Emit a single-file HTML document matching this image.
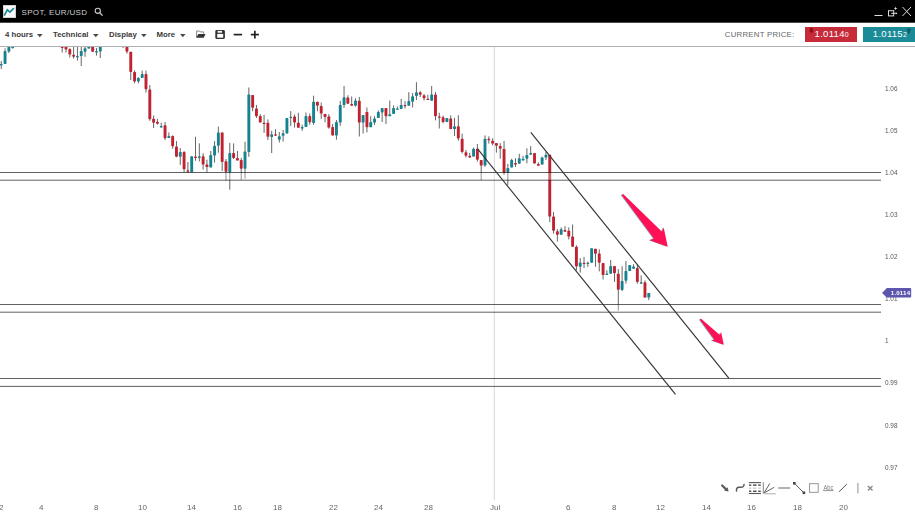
<!DOCTYPE html>
<html><head><meta charset="utf-8">
<style>
*{margin:0;padding:0;box-sizing:border-box}
html,body{width:915px;height:517px;overflow:hidden;background:#fff;font-family:"Liberation Sans",sans-serif}
#hdr{position:absolute;left:0;top:0;width:915px;height:23px;background:#000;border-bottom:1px solid #4a4a4a}
#logo{position:absolute;left:2.6px;top:4.8px;width:13.4px;height:13.2px;background:#fafafa;border:1px solid #d0d0d0}
#title{position:absolute;left:21.5px;top:7.5px;font-size:8px;color:#cfcfcf;letter-spacing:0.35px;white-space:nowrap;line-height:10px}
#tb{position:absolute;left:0;top:23px;width:915px;height:24px;background:#fff;border-bottom:1px solid #b0b0b0}
.tbt{position:absolute;top:6.5px;font-size:7.8px;font-weight:bold;color:#3a3a3a;line-height:10px;white-space:nowrap}
.dd{position:absolute;top:11px}
#cp{position:absolute;left:724.8px;top:7.4px;font-size:7.8px;color:#666;letter-spacing:0.25px;white-space:nowrap;line-height:10px}
.pbox{position:absolute;top:4px;height:14.5px;color:#fff;font-size:9.5px;line-height:15px}
#chart{position:absolute;left:0;top:47px}
.yl{position:absolute;left:885.3px;font-size:6.4px;color:#555;line-height:8px;will-change:transform}
.xl{position:absolute;top:503.3px;font-size:8px;color:#666;line-height:9px;white-space:nowrap;will-change:transform}
</style></head><body>
<div id="hdr">
  <div id="logo"></div><svg width="20" height="20" style="position:absolute;left:0;top:0"><polyline points="4.2,15.6 7.3,9.9 9.9,12.2 13.9,8.1" fill="none" stroke="#1b8a96" stroke-width="1.7"/></svg>
  <div id="title">SPOT, EUR/USD</div>
  <svg style="position:absolute;left:94px;top:7px" width="10" height="10"><circle cx="3.8" cy="3.8" r="2.6" fill="none" stroke="#ccc" stroke-width="1.1"/><line x1="5.7" y1="5.7" x2="8.6" y2="8.6" stroke="#ccc" stroke-width="1.3"/></svg>
  <svg style="position:absolute;left:872px;top:4px" width="42" height="14">
    <line x1="2.5" y1="11.5" x2="10.5" y2="11.5" stroke="#ddd" stroke-width="1"/>
    <rect x="16.5" y="6.7" width="5.2" height="5.2" fill="none" stroke="#ddd" stroke-width="1"/>
    <line x1="19.3" y1="9.3" x2="23.6" y2="9.3" stroke="#ddd" stroke-width="1"/>
    <circle cx="24.2" cy="9.3" r="0.9" fill="#ddd"/>
    <path d="M23.6 2.5 L24.1 3.9 L25.5 4.4 L24.1 4.9 L23.6 6.3 L23.1 4.9 L21.7 4.4 L23.1 3.9 Z" fill="#e4e4e4"/>
    <line x1="30.5" y1="3" x2="39" y2="12" stroke="#ddd" stroke-width="1"/>
    <line x1="39" y1="3" x2="30.5" y2="12" stroke="#ddd" stroke-width="1"/>
  </svg>
</div>
<div id="tb">
  <div class="tbt" style="left:5px">4 hours</div><svg class="dd" style="left:36.9px" width="6" height="4"><polygon points="0,0 5.6,0 2.8,3.3" fill="#4a4a4a"/></svg>
  <div class="tbt" style="left:53px">Technical</div><svg class="dd" style="left:92.6px" width="6" height="4"><polygon points="0,0 5.6,0 2.8,3.3" fill="#4a4a4a"/></svg>
  <div class="tbt" style="left:109px">Display</div><svg class="dd" style="left:140.7px" width="6" height="4"><polygon points="0,0 5.6,0 2.8,3.3" fill="#4a4a4a"/></svg>
  <div class="tbt" style="left:156.5px">More</div><svg class="dd" style="left:179.7px" width="6" height="4"><polygon points="0,0 5.6,0 2.8,3.3" fill="#4a4a4a"/></svg>
  <svg style="position:absolute;left:195px;top:6px" width="70" height="12">
    <path d="M1.6 8.4 V2 H4.4 L5.2 2.9 H8.6 V4.6" fill="none" stroke="#777" stroke-width="0.9"/>
    <polygon points="3.4,4.9 10.5,4.9 8.8,8.8 1.2,8.8" fill="#333"/>
    <rect x="20.3" y="1.1" width="9.6" height="8.8" rx="1.3" fill="#333"/>
    <rect x="22.6" y="1.9" width="4.4" height="1.8" fill="#fff"/>
    <rect x="22.2" y="4.9" width="6.0" height="3.8" fill="#fff"/>
    <line x1="38.7" y1="5.6" x2="47.1" y2="5.6" stroke="#222" stroke-width="1.7"/>
    <line x1="55.8" y1="5.6" x2="63.9" y2="5.6" stroke="#222" stroke-width="1.7"/><line x1="59.85" y1="1.7" x2="59.85" y2="9.5" stroke="#222" stroke-width="1.7"/>
  </svg>
  <div id="cp">CURRENT PRICE:</div>
  <div class="pbox" style="left:805px;width:52px;background:#c72a39"><svg style="position:absolute;left:0;top:0" width="12" height="10"><path d="M5.1 0.9 H7.7 V3.7 H8.8 L6.4 6.3 L3.8 3.7 H5.1 Z" fill="#8d1019"/></svg><span style="position:absolute;left:9.6px;top:-1.5px;letter-spacing:0.3px">1.0114<span style="font-size:7px;letter-spacing:0">0</span></span></div>
  <div class="pbox" style="left:863px;width:52px;background:#1a8b97"><span style="position:absolute;left:9.8px;top:-1.5px;letter-spacing:0.3px">1.0115<span style="font-size:7px;letter-spacing:0">2</span></span><svg style="position:absolute;left:40px;top:0" width="12" height="10"><path d="M5.8 0.9 L8.6 3.4 H6.8 V6.4 H4.7 V3.4 H3.3 Z" fill="#0b5b61"/></svg></div>
</div>
<svg id="chart" width="915" height="470" viewBox="0 47 915 470" style="position:absolute;left:0;top:47px">
  <line x1="494.3" y1="47" x2="494.3" y2="500" stroke="#d6d6d6" stroke-width="1"/>
  <g stroke="#666" stroke-width="1"><line x1="1.25" y1="61.0" x2="1.25" y2="69.0"/><line x1="5.06" y1="48.4" x2="5.06" y2="64.0"/><line x1="8.87" y1="40.0" x2="8.87" y2="53.0"/><line x1="12.68" y1="40.0" x2="12.68" y2="48.3"/><line x1="62.20" y1="40.0" x2="62.20" y2="52.5"/><line x1="66.00" y1="40.0" x2="66.00" y2="52.5"/><line x1="69.81" y1="48.3" x2="69.81" y2="57.5"/><line x1="73.62" y1="46.0" x2="73.62" y2="58.7"/><line x1="77.43" y1="46.0" x2="77.43" y2="60.6"/><line x1="81.24" y1="47.0" x2="81.24" y2="66.0"/><line x1="85.05" y1="40.0" x2="85.05" y2="56.8"/><line x1="88.86" y1="40.0" x2="88.86" y2="48.6"/><line x1="92.67" y1="40.0" x2="92.67" y2="52.0"/><line x1="96.48" y1="47.9" x2="96.48" y2="55.6"/><line x1="100.29" y1="40.0" x2="100.29" y2="58.0"/><line x1="123.14" y1="40.0" x2="123.14" y2="48.0"/><line x1="126.95" y1="40.0" x2="126.95" y2="53.7"/><line x1="130.76" y1="51.7" x2="130.76" y2="80.0"/><line x1="134.57" y1="70.3" x2="134.57" y2="83.3"/><line x1="138.38" y1="77.2" x2="138.38" y2="83.3"/><line x1="142.19" y1="70.6" x2="142.19" y2="78.0"/><line x1="145.99" y1="70.6" x2="145.99" y2="92.6"/><line x1="149.80" y1="85.0" x2="149.80" y2="120.8"/><line x1="153.61" y1="115.5" x2="153.61" y2="128.0"/><line x1="157.42" y1="118.8" x2="157.42" y2="124.6"/><line x1="161.23" y1="122.7" x2="161.23" y2="127.5"/><line x1="165.04" y1="122.0" x2="165.04" y2="140.0"/><line x1="168.85" y1="132.4" x2="168.85" y2="138.0"/><line x1="172.66" y1="135.3" x2="172.66" y2="148.6"/><line x1="176.47" y1="141.1" x2="176.47" y2="157.3"/><line x1="180.28" y1="148.0" x2="180.28" y2="164.9"/><line x1="184.08" y1="151.0" x2="184.08" y2="172.3"/><line x1="187.89" y1="162.0" x2="187.89" y2="173.0"/><line x1="191.70" y1="156.2" x2="191.70" y2="172.3"/><line x1="195.51" y1="136.8" x2="195.51" y2="160.8"/><line x1="199.32" y1="143.4" x2="199.32" y2="161.4"/><line x1="203.13" y1="153.3" x2="203.13" y2="169.6"/><line x1="206.94" y1="159.7" x2="206.94" y2="172.3"/><line x1="210.75" y1="151.0" x2="210.75" y2="167.4"/><line x1="214.56" y1="141.1" x2="214.56" y2="162.6"/><line x1="218.37" y1="126.6" x2="218.37" y2="152.7"/><line x1="222.17" y1="132.4" x2="222.17" y2="171.0"/><line x1="225.98" y1="159.0" x2="225.98" y2="180.5"/><line x1="229.79" y1="142.8" x2="229.79" y2="189.7"/><line x1="233.60" y1="143.4" x2="233.60" y2="159.0"/><line x1="237.41" y1="151.0" x2="237.41" y2="160.5"/><line x1="241.22" y1="157.9" x2="241.22" y2="180.0"/><line x1="245.03" y1="141.7" x2="245.03" y2="178.8"/><line x1="248.84" y1="87.5" x2="248.84" y2="156.8"/><line x1="252.65" y1="95.0" x2="252.65" y2="111.3"/><line x1="256.45" y1="104.9" x2="256.45" y2="118.0"/><line x1="260.26" y1="114.1" x2="260.26" y2="122.5"/><line x1="264.07" y1="114.9" x2="264.07" y2="132.9"/><line x1="267.88" y1="119.4" x2="267.88" y2="140.0"/><line x1="271.69" y1="130.8" x2="271.69" y2="153.0"/><line x1="275.50" y1="129.2" x2="275.50" y2="135.7"/><line x1="279.31" y1="132.0" x2="279.31" y2="142.5"/><line x1="283.12" y1="130.0" x2="283.12" y2="141.6"/><line x1="286.93" y1="118.1" x2="286.93" y2="133.4"/><line x1="290.74" y1="111.1" x2="290.74" y2="126.1"/><line x1="294.55" y1="114.5" x2="294.55" y2="127.6"/><line x1="298.35" y1="112.8" x2="298.35" y2="127.8"/><line x1="302.16" y1="124.7" x2="302.16" y2="130.8"/><line x1="305.97" y1="112.5" x2="305.97" y2="127.0"/><line x1="309.78" y1="113.6" x2="309.78" y2="124.7"/><line x1="313.59" y1="95.7" x2="313.59" y2="124.7"/><line x1="317.40" y1="101.8" x2="317.40" y2="111.3"/><line x1="321.21" y1="102.6" x2="321.21" y2="118.9"/><line x1="325.02" y1="113.9" x2="325.02" y2="122.3"/><line x1="328.83" y1="114.2" x2="328.83" y2="128.7"/><line x1="332.63" y1="124.0" x2="332.63" y2="135.5"/><line x1="336.44" y1="120.0" x2="336.44" y2="139.7"/><line x1="340.25" y1="100.9" x2="340.25" y2="125.8"/><line x1="344.06" y1="85.9" x2="344.06" y2="107.9"/><line x1="347.87" y1="95.3" x2="347.87" y2="103.8"/><line x1="351.68" y1="96.5" x2="351.68" y2="105.7"/><line x1="355.49" y1="98.2" x2="355.49" y2="106.6"/><line x1="359.30" y1="97.0" x2="359.30" y2="136.5"/><line x1="363.11" y1="115.0" x2="363.11" y2="133.6"/><line x1="366.92" y1="107.5" x2="366.92" y2="132.4"/><line x1="370.73" y1="116.2" x2="370.73" y2="127.2"/><line x1="374.53" y1="116.2" x2="374.53" y2="124.9"/><line x1="378.34" y1="110.4" x2="378.34" y2="117.9"/><line x1="382.15" y1="108.0" x2="382.15" y2="122.0"/><line x1="385.96" y1="108.0" x2="385.96" y2="124.0"/><line x1="389.77" y1="100.5" x2="389.77" y2="116.2"/><line x1="393.58" y1="105.4" x2="393.58" y2="113.9"/><line x1="397.39" y1="106.5" x2="397.39" y2="109.8"/><line x1="401.20" y1="98.8" x2="401.20" y2="108.9"/><line x1="405.01" y1="101.0" x2="405.01" y2="108.6"/><line x1="408.81" y1="92.2" x2="408.81" y2="105.7"/><line x1="412.62" y1="93.0" x2="412.62" y2="107.5"/><line x1="416.43" y1="82.2" x2="416.43" y2="100.0"/><line x1="420.24" y1="91.2" x2="420.24" y2="97.0"/><line x1="424.05" y1="94.1" x2="424.05" y2="100.5"/><line x1="427.86" y1="94.7" x2="427.86" y2="100.0"/><line x1="431.67" y1="86.0" x2="431.67" y2="100.7"/><line x1="435.48" y1="92.0" x2="435.48" y2="120.4"/><line x1="439.29" y1="112.8" x2="439.29" y2="128.5"/><line x1="443.10" y1="115.7" x2="443.10" y2="123.3"/><line x1="446.90" y1="118.0" x2="446.90" y2="122.1"/><line x1="450.71" y1="115.4" x2="450.71" y2="129.1"/><line x1="454.52" y1="118.0" x2="454.52" y2="136.0"/><line x1="458.33" y1="115.2" x2="458.33" y2="140.7"/><line x1="462.14" y1="133.7" x2="462.14" y2="153.4"/><line x1="465.95" y1="150.0" x2="465.95" y2="157.5"/><line x1="469.76" y1="152.8" x2="469.76" y2="158.0"/><line x1="473.57" y1="147.6" x2="473.57" y2="156.6"/><line x1="477.38" y1="144.1" x2="477.38" y2="161.5"/><line x1="481.19" y1="160.0" x2="481.19" y2="180.1"/><line x1="485.00" y1="135.4" x2="485.00" y2="166.8"/><line x1="488.80" y1="136.4" x2="488.80" y2="143.6"/><line x1="492.61" y1="138.3" x2="492.61" y2="145.3"/><line x1="496.42" y1="143.1" x2="496.42" y2="152.6"/><line x1="500.23" y1="143.1" x2="500.23" y2="158.7"/><line x1="504.04" y1="140.9" x2="504.04" y2="175.0"/><line x1="507.85" y1="164.0" x2="507.85" y2="184.9"/><line x1="511.66" y1="158.8" x2="511.66" y2="167.5"/><line x1="515.47" y1="158.2" x2="515.47" y2="166.9"/><line x1="519.28" y1="153.8" x2="519.28" y2="163.8"/><line x1="523.09" y1="155.9" x2="523.09" y2="160.5"/><line x1="526.89" y1="148.3" x2="526.89" y2="163.4"/><line x1="530.70" y1="146.0" x2="530.70" y2="154.7"/><line x1="534.51" y1="153.0" x2="534.51" y2="163.4"/><line x1="538.32" y1="162.3" x2="538.32" y2="165.8"/><line x1="542.13" y1="156.5" x2="542.13" y2="164.6"/><line x1="545.94" y1="151.8" x2="545.94" y2="160.0"/><line x1="549.75" y1="154.7" x2="549.75" y2="222.1"/><line x1="553.56" y1="211.9" x2="553.56" y2="233.7"/><line x1="557.37" y1="229.1" x2="557.37" y2="241.6"/><line x1="561.18" y1="227.4" x2="561.18" y2="234.7"/><line x1="564.98" y1="226.2" x2="564.98" y2="231.7"/><line x1="568.79" y1="227.4" x2="568.79" y2="239.5"/><line x1="572.60" y1="224.5" x2="572.60" y2="246.8"/><line x1="576.41" y1="245.3" x2="576.41" y2="270.3"/><line x1="580.22" y1="258.0" x2="580.22" y2="272.6"/><line x1="584.03" y1="256.9" x2="584.03" y2="268.0"/><line x1="587.84" y1="261.6" x2="587.84" y2="266.8"/><line x1="591.65" y1="248.2" x2="591.65" y2="262.7"/><line x1="595.46" y1="248.8" x2="595.46" y2="266.8"/><line x1="599.26" y1="249.4" x2="599.26" y2="271.4"/><line x1="603.07" y1="263.0" x2="603.07" y2="279.5"/><line x1="606.88" y1="270.3" x2="606.88" y2="275.0"/><line x1="610.69" y1="260.0" x2="610.69" y2="273.7"/><line x1="614.50" y1="266.0" x2="614.50" y2="281.9"/><line x1="618.31" y1="269.0" x2="618.31" y2="310.5"/><line x1="622.12" y1="266.2" x2="622.12" y2="291.2"/><line x1="625.93" y1="261.0" x2="625.93" y2="283.7"/><line x1="629.74" y1="265.1" x2="629.74" y2="271.1"/><line x1="633.55" y1="264.2" x2="633.55" y2="268.8"/><line x1="637.36" y1="264.5" x2="637.36" y2="283.7"/><line x1="641.16" y1="275.3" x2="641.16" y2="283.7"/><line x1="644.97" y1="280.4" x2="644.97" y2="297.6"/><line x1="648.78" y1="292.9" x2="648.78" y2="300.1"/></g><g fill="#c02230"><rect x="60.75" y="40.0" width="2.9" height="8.0" rx="0.7"/><rect x="64.55" y="40.0" width="2.9" height="9.4" rx="0.7"/><rect x="68.36" y="49.0" width="2.9" height="5.4" rx="0.7"/><rect x="72.17" y="54.8" width="2.9" height="2.0" rx="0.7"/><rect x="91.22" y="40.0" width="2.9" height="11.7" rx="0.7"/><rect x="121.69" y="40.0" width="2.9" height="4.0" rx="0.7"/><rect x="125.50" y="40.0" width="2.9" height="11.7" rx="0.7"/><rect x="129.31" y="51.7" width="2.9" height="20.2" rx="0.7"/><rect x="133.12" y="71.9" width="2.9" height="9.5" rx="0.7"/><rect x="144.54" y="74.0" width="2.9" height="15.2" rx="0.7"/><rect x="148.35" y="89.4" width="2.9" height="29.9" rx="0.7"/><rect x="152.16" y="118.8" width="2.9" height="3.9" rx="0.7"/><rect x="155.97" y="121.8" width="2.9" height="1.9" rx="0.7"/><rect x="163.59" y="125.2" width="2.9" height="13.0" rx="0.7"/><rect x="171.21" y="136.1" width="2.9" height="10.2" rx="0.7"/><rect x="175.02" y="146.6" width="2.9" height="10.2" rx="0.7"/><rect x="182.63" y="152.1" width="2.9" height="17.2" rx="0.7"/><rect x="186.44" y="170.3" width="2.9" height="1.5" rx="0.7"/><rect x="194.06" y="156.5" width="2.9" height="1.5" rx="0.7"/><rect x="201.68" y="156.2" width="2.9" height="8.4" rx="0.7"/><rect x="205.49" y="164.5" width="2.9" height="2.5" rx="0.7"/><rect x="220.72" y="132.4" width="2.9" height="29.6" rx="0.7"/><rect x="224.53" y="161.2" width="2.9" height="10.6" rx="0.7"/><rect x="232.15" y="153.0" width="2.9" height="4.9" rx="0.7"/><rect x="235.96" y="157.9" width="2.9" height="2.6" rx="0.7"/><rect x="239.77" y="160.0" width="2.9" height="8.8" rx="0.7"/><rect x="251.20" y="95.0" width="2.9" height="12.8" rx="0.7"/><rect x="255.00" y="108.6" width="2.9" height="7.6" rx="0.7"/><rect x="258.81" y="116.0" width="2.9" height="6.5" rx="0.7"/><rect x="262.62" y="122.8" width="2.9" height="1.3" rx="0.7"/><rect x="266.43" y="122.8" width="2.9" height="14.0" rx="0.7"/><rect x="274.05" y="134.2" width="2.9" height="1.5" rx="0.7"/><rect x="293.10" y="116.4" width="2.9" height="6.0" rx="0.7"/><rect x="296.90" y="122.8" width="2.9" height="5.0" rx="0.7"/><rect x="308.33" y="116.0" width="2.9" height="6.3" rx="0.7"/><rect x="315.95" y="101.8" width="2.9" height="4.0" rx="0.7"/><rect x="319.76" y="106.1" width="2.9" height="7.5" rx="0.7"/><rect x="323.57" y="113.9" width="2.9" height="3.0" rx="0.7"/><rect x="327.38" y="116.5" width="2.9" height="11.1" rx="0.7"/><rect x="331.19" y="127.0" width="2.9" height="8.5" rx="0.7"/><rect x="346.42" y="97.6" width="2.9" height="6.2" rx="0.7"/><rect x="350.23" y="104.0" width="2.9" height="1.7" rx="0.7"/><rect x="357.85" y="100.8" width="2.9" height="21.8" rx="0.7"/><rect x="365.47" y="111.9" width="2.9" height="15.3" rx="0.7"/><rect x="384.51" y="108.0" width="2.9" height="8.2" rx="0.7"/><rect x="403.56" y="104.9" width="2.9" height="1.4" rx="0.7"/><rect x="418.79" y="92.2" width="2.9" height="2.5" rx="0.7"/><rect x="422.60" y="95.3" width="2.9" height="2.9" rx="0.7"/><rect x="426.41" y="98.8" width="2.9" height="1.2" rx="0.7"/><rect x="434.03" y="94.4" width="2.9" height="21.9" rx="0.7"/><rect x="437.84" y="116.6" width="2.9" height="1.2" rx="0.7"/><rect x="441.65" y="117.3" width="2.9" height="4.6" rx="0.7"/><rect x="449.26" y="118.4" width="2.9" height="10.7" rx="0.7"/><rect x="456.88" y="126.2" width="2.9" height="12.2" rx="0.7"/><rect x="460.69" y="138.7" width="2.9" height="13.2" rx="0.7"/><rect x="464.50" y="152.3" width="2.9" height="3.4" rx="0.7"/><rect x="468.31" y="155.7" width="2.9" height="1.8" rx="0.7"/><rect x="475.93" y="148.8" width="2.9" height="11.0" rx="0.7"/><rect x="479.74" y="160.0" width="2.9" height="5.6" rx="0.7"/><rect x="487.35" y="138.7" width="2.9" height="1.6" rx="0.7"/><rect x="491.16" y="140.7" width="2.9" height="2.9" rx="0.7"/><rect x="494.97" y="143.1" width="2.9" height="2.6" rx="0.7"/><rect x="498.78" y="146.0" width="2.9" height="2.7" rx="0.7"/><rect x="502.59" y="148.9" width="2.9" height="24.4" rx="0.7"/><rect x="514.02" y="162.9" width="2.9" height="1.7" rx="0.7"/><rect x="533.06" y="153.0" width="2.9" height="10.4" rx="0.7"/><rect x="536.87" y="164.0" width="2.9" height="1.8" rx="0.7"/><rect x="548.30" y="154.7" width="2.9" height="61.9" rx="0.7"/><rect x="552.11" y="216.6" width="2.9" height="14.2" rx="0.7"/><rect x="555.92" y="231.2" width="2.9" height="3.5" rx="0.7"/><rect x="563.53" y="230.0" width="2.9" height="1.7" rx="0.7"/><rect x="567.34" y="230.8" width="2.9" height="5.8" rx="0.7"/><rect x="571.15" y="236.6" width="2.9" height="10.2" rx="0.7"/><rect x="574.96" y="246.8" width="2.9" height="19.7" rx="0.7"/><rect x="582.58" y="262.7" width="2.9" height="1.2" rx="0.7"/><rect x="594.01" y="248.8" width="2.9" height="5.0" rx="0.7"/><rect x="597.81" y="253.4" width="2.9" height="9.3" rx="0.7"/><rect x="601.62" y="263.0" width="2.9" height="12.1" rx="0.7"/><rect x="613.05" y="266.0" width="2.9" height="7.2" rx="0.7"/><rect x="616.86" y="273.7" width="2.9" height="16.1" rx="0.7"/><rect x="635.90" y="268.0" width="2.9" height="13.9" rx="0.7"/><rect x="643.52" y="282.3" width="2.9" height="15.3" rx="0.7"/></g><g fill="#16828f"><rect x="-0.20" y="64.0" width="2.9" height="1.5" rx="0.7"/><rect x="3.61" y="51.0" width="2.9" height="13.0" rx="0.7"/><rect x="7.42" y="40.0" width="2.9" height="11.6" rx="0.7"/><rect x="11.23" y="40.0" width="2.9" height="8.3" rx="0.7"/><rect x="75.98" y="56.0" width="2.9" height="1.5" rx="0.7"/><rect x="79.79" y="51.0" width="2.9" height="5.0" rx="0.7"/><rect x="83.60" y="48.3" width="2.9" height="3.4" rx="0.7"/><rect x="87.41" y="40.0" width="2.9" height="8.6" rx="0.7"/><rect x="95.03" y="51.0" width="2.9" height="1.5" rx="0.7"/><rect x="98.84" y="40.0" width="2.9" height="11.4" rx="0.7"/><rect x="136.93" y="77.9" width="2.9" height="3.5" rx="0.7"/><rect x="140.74" y="74.0" width="2.9" height="4.0" rx="0.7"/><rect x="159.78" y="126.0" width="2.9" height="1.5" rx="0.7"/><rect x="167.40" y="136.1" width="2.9" height="1.9" rx="0.7"/><rect x="178.83" y="152.1" width="2.9" height="4.7" rx="0.7"/><rect x="190.25" y="156.2" width="2.9" height="16.1" rx="0.7"/><rect x="197.87" y="156.2" width="2.9" height="1.8" rx="0.7"/><rect x="209.30" y="155.0" width="2.9" height="12.4" rx="0.7"/><rect x="213.11" y="145.7" width="2.9" height="9.9" rx="0.7"/><rect x="216.92" y="132.4" width="2.9" height="13.3" rx="0.7"/><rect x="228.34" y="153.0" width="2.9" height="19.3" rx="0.7"/><rect x="243.58" y="151.5" width="2.9" height="17.3" rx="0.7"/><rect x="247.39" y="94.5" width="2.9" height="57.5" rx="0.7"/><rect x="270.24" y="134.3" width="2.9" height="2.7" rx="0.7"/><rect x="277.86" y="136.3" width="2.9" height="3.5" rx="0.7"/><rect x="281.67" y="133.2" width="2.9" height="2.6" rx="0.7"/><rect x="285.48" y="118.1" width="2.9" height="15.3" rx="0.7"/><rect x="289.29" y="116.7" width="2.9" height="1.2" rx="0.7"/><rect x="300.71" y="127.0" width="2.9" height="1.6" rx="0.7"/><rect x="304.52" y="116.0" width="2.9" height="11.0" rx="0.7"/><rect x="312.14" y="101.8" width="2.9" height="21.1" rx="0.7"/><rect x="334.99" y="122.0" width="2.9" height="13.5" rx="0.7"/><rect x="338.80" y="105.1" width="2.9" height="17.3" rx="0.7"/><rect x="342.61" y="97.3" width="2.9" height="7.8" rx="0.7"/><rect x="354.04" y="100.5" width="2.9" height="5.2" rx="0.7"/><rect x="361.66" y="115.0" width="2.9" height="7.6" rx="0.7"/><rect x="369.28" y="122.0" width="2.9" height="5.2" rx="0.7"/><rect x="373.08" y="118.5" width="2.9" height="4.1" rx="0.7"/><rect x="376.89" y="112.1" width="2.9" height="5.8" rx="0.7"/><rect x="380.70" y="108.0" width="2.9" height="4.4" rx="0.7"/><rect x="388.32" y="114.3" width="2.9" height="1.9" rx="0.7"/><rect x="392.13" y="108.0" width="2.9" height="5.9" rx="0.7"/><rect x="395.94" y="108.6" width="2.9" height="1.2" rx="0.7"/><rect x="399.75" y="104.9" width="2.9" height="4.0" rx="0.7"/><rect x="407.37" y="101.0" width="2.9" height="4.7" rx="0.7"/><rect x="411.17" y="96.2" width="2.9" height="5.5" rx="0.7"/><rect x="414.98" y="92.2" width="2.9" height="3.7" rx="0.7"/><rect x="430.22" y="94.4" width="2.9" height="6.3" rx="0.7"/><rect x="445.45" y="118.0" width="2.9" height="4.1" rx="0.7"/><rect x="453.07" y="126.2" width="2.9" height="2.9" rx="0.7"/><rect x="472.12" y="148.8" width="2.9" height="7.8" rx="0.7"/><rect x="483.55" y="138.7" width="2.9" height="26.9" rx="0.7"/><rect x="506.40" y="168.0" width="2.9" height="4.7" rx="0.7"/><rect x="510.21" y="160.0" width="2.9" height="7.5" rx="0.7"/><rect x="517.83" y="158.2" width="2.9" height="5.6" rx="0.7"/><rect x="521.63" y="158.8" width="2.9" height="1.7" rx="0.7"/><rect x="525.44" y="155.0" width="2.9" height="3.8" rx="0.7"/><rect x="529.25" y="153.0" width="2.9" height="1.7" rx="0.7"/><rect x="540.68" y="157.6" width="2.9" height="7.0" rx="0.7"/><rect x="544.49" y="154.7" width="2.9" height="2.9" rx="0.7"/><rect x="559.73" y="229.3" width="2.9" height="5.4" rx="0.7"/><rect x="578.77" y="262.4" width="2.9" height="4.4" rx="0.7"/><rect x="586.39" y="262.7" width="2.9" height="1.2" rx="0.7"/><rect x="590.20" y="248.2" width="2.9" height="14.5" rx="0.7"/><rect x="605.43" y="273.6" width="2.9" height="1.4" rx="0.7"/><rect x="609.24" y="266.0" width="2.9" height="7.7" rx="0.7"/><rect x="620.67" y="281.1" width="2.9" height="8.9" rx="0.7"/><rect x="624.48" y="271.1" width="2.9" height="9.7" rx="0.7"/><rect x="628.29" y="265.1" width="2.9" height="6.0" rx="0.7"/><rect x="632.10" y="266.5" width="2.9" height="2.3" rx="0.7"/><rect x="639.71" y="282.3" width="2.9" height="1.4" rx="0.7"/><rect x="647.33" y="292.9" width="2.9" height="4.7" rx="0.7"/></g>
  <g fill="rgba(255,255,255,0.3)">
    <rect x="0" y="172.5" width="881" height="7.7"/>
    <rect x="0" y="304.5" width="881" height="7.7"/>
    <rect x="0" y="378.5" width="881" height="7.9"/>
  </g>
  <g stroke="rgba(0,0,0,0.62)" stroke-width="1">
    <line x1="0" y1="172.5" x2="881" y2="172.5"/>
    <line x1="0" y1="180.2" x2="881" y2="180.2"/>
    <line x1="0" y1="304.5" x2="881" y2="304.5"/>
    <line x1="0" y1="312.2" x2="881" y2="312.2"/>
    <line x1="0" y1="378.5" x2="881" y2="378.5"/>
    <line x1="0" y1="386.4" x2="881" y2="386.4"/>
  </g>

  <line x1="477.4" y1="148.6" x2="675.5" y2="394.4" stroke="#333" stroke-width="1.15"/>
  <line x1="530.8" y1="132.4" x2="728.8" y2="378.2" stroke="#333" stroke-width="1.15"/>
  <g fill="#ff1057" style="filter:drop-shadow(-0.6px 0.8px 0.6px rgba(0,70,70,0.45))">
    <polygon points="621.8,195.3 623.2,194.0 662.0,231.8 663.7,227.6 667.7,246.8 649.7,240.3 653.9,238.4"/>
    <polygon points="699.9,319.8 701.1,318.7 719.8,335.1 721.1,332 723.8,344.7 711.8,340.5 714.3,339.4"/>
  </g>

</svg>
<div class="yl" style="top:84.5px">1.06</div>
<div class="yl" style="top:126.6px">1.05</div>
<div class="yl" style="top:168.8px">1.04</div>
<div class="yl" style="top:210.9px">1.03</div>
<div class="yl" style="top:253.0px">1.02</div>
<div class="yl" style="top:295.1px">1.01</div>
<div class="yl" style="top:337.3px">1</div>
<div class="yl" style="top:379.4px">0.99</div>
<div class="yl" style="top:421.5px">0.98</div>
<div class="yl" style="top:463.7px">0.97</div>
<div class="xl" style="left:-1.2px">2</div>
<div class="xl" style="left:39px">4</div>
<div class="xl" style="left:94px">8</div>
<div class="xl" style="left:138px">10</div>
<div class="xl" style="left:187px">14</div>
<div class="xl" style="left:233px">16</div>
<div class="xl" style="left:273px">18</div>
<div class="xl" style="left:328.5px">22</div>
<div class="xl" style="left:374px">24</div>
<div class="xl" style="left:423.5px">28</div>
<div class="xl" style="left:489.5px">Jul</div>
<div class="xl" style="left:566px">6</div>
<div class="xl" style="left:612px">8</div>
<div class="xl" style="left:656px">12</div>
<div class="xl" style="left:702px">14</div>
<div class="xl" style="left:747px">16</div>
<div class="xl" style="left:793px">18</div>
<div class="xl" style="left:839px">20</div>

<svg style="position:absolute;left:715px;top:478px;will-change:transform" width="170" height="20" viewBox="715 478 170 20">
  <g stroke="#555" fill="none">
    <line x1="722.2" y1="485.5" x2="726.3" y2="489.6" stroke-width="2.3" stroke="#5e5e5e" stroke-linecap="round"/>
    <polygon points="728.6,491.6 724.2,490.7 727.7,487.2" fill="#5e5e5e" stroke="none"/>
    <path d="M736.6 491.6 C736 488.5 737 487.2 739.5 487.3 C742 487.4 744.5 487.5 744 483.9" stroke-width="1.4"/>
    <line x1="748.8" y1="482.6" x2="761" y2="482.6" stroke-width="1.1"/>
    <line x1="748.8" y1="493.5" x2="761" y2="493.5" stroke-width="1.1"/>
    <g stroke="none" fill="#555"><rect x="749" y="484.4" width="2.3" height="1.5"/><rect x="753" y="484.4" width="3.5" height="1.5"/><rect x="758.2" y="484.4" width="2.5" height="1.5"/>
    <rect x="749" y="490.5" width="2.3" height="1.5"/><rect x="753" y="490.5" width="3.5" height="1.5"/><rect x="758.2" y="490.5" width="2.5" height="1.5"/></g>
    <g stroke="none" fill="#ccc"><rect x="749" y="487.5" width="2.3" height="1.4"/><rect x="753" y="487.5" width="3.5" height="1.4"/><rect x="758.2" y="487.5" width="2.5" height="1.4"/></g>
    <line x1="763.3" y1="482.3" x2="763.3" y2="493.6" stroke-width="0.8" stroke="#666"/>
    <line x1="764" y1="493" x2="769.8" y2="483.5" stroke-width="0.9"/>
    <line x1="764" y1="493" x2="774.2" y2="487.3" stroke-width="0.9"/>
    <line x1="764.5" y1="493.7" x2="775.8" y2="493.7" stroke-width="1.4" stroke="#c4c4c4"/>
    <line x1="778.3" y1="488" x2="790.1" y2="488" stroke-width="1.3" stroke="#888"/>
    <line x1="794.3" y1="483.2" x2="803.9" y2="492.8" stroke-width="0.9" stroke="#444"/>
    <rect x="793" y="482" width="2.6" height="2.6" fill="#444" stroke="none"/>
    <rect x="802.6" y="491.5" width="2.6" height="2.6" fill="#444" stroke="none"/>
    <rect x="809.6" y="483.7" width="8.6" height="8.6" stroke="#8a8a8a" stroke-width="0.9"/>
    <line x1="823.2" y1="490.6" x2="833.5" y2="490.6" stroke="#777" stroke-width="0.8"/>
    <line x1="839" y1="491.8" x2="846.9" y2="484.1" stroke-width="0.9" stroke="#444"/>
    <line x1="857.9" y1="483.1" x2="857.9" y2="493.5" stroke-width="1.3" stroke="#aaa"/>
    <line x1="867.9" y1="486" x2="872.5" y2="490.6" stroke-width="1.4" stroke="#888"/>
    <line x1="872.5" y1="486" x2="867.9" y2="490.6" stroke-width="1.4" stroke="#888"/>
  </g>
  <text x="823.4" y="490.1" font-size="7" fill="#808080" font-family="Liberation Sans, sans-serif" textLength="10" lengthAdjust="spacingAndGlyphs">Abc</text>
</svg>
<svg style="position:absolute;left:880px;top:286px" width="35" height="14" viewBox="880 286 35 14"><path d="M882 292.9 L886.9 288.1 H910.2 Q911.2 288.1 911.2 289.1 V296.6 Q911.2 297.6 910.2 297.6 H886.9 Z" fill="#5d56ae"/></svg>
<div style="position:absolute;left:890.8px;top:287.6px;font-size:6.2px;font-weight:bold;color:#fff;line-height:9px;letter-spacing:0.15px">1.0114</div>
</body></html>
